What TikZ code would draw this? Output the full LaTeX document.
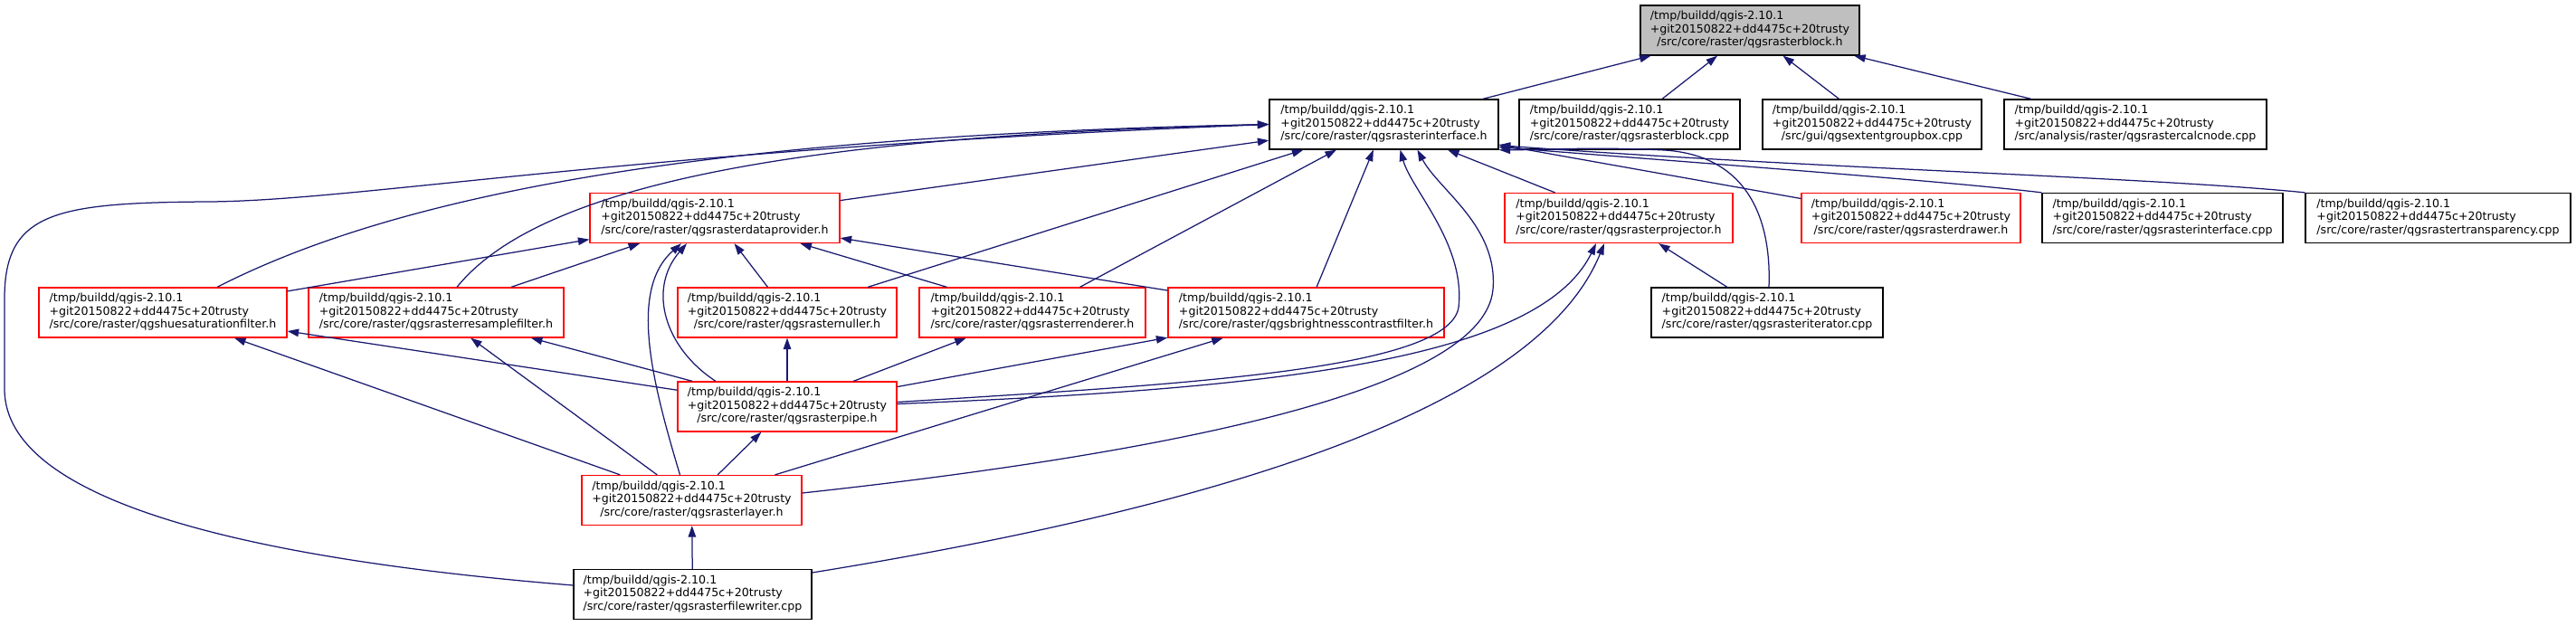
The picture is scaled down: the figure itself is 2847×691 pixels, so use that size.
\documentclass[tikz,border=0pt]{standalone}
\usepackage{fontspec}
\setmainfont{DejaVu Sans}
\usetikzlibrary{arrows.meta}
\definecolor{edgeNavy}{HTML}{191970}
\definecolor{rootGrey}{HTML}{BFBFBF}
\definecolor{boxRed}{HTML}{FF0000}
\newcommand{\qgisFile}[1]{\begin{tabular}{@{}l@{}}/tmp/buildd/qgis-2.10.1\\+git20150822+dd4475c+20trusty\\\multicolumn{1}{@{}c@{}}{#1}\end{tabular}}

\begin{document}
\begin{tikzpicture}[x=1pt,y=-1pt,
  fileBox/.style={draw,line width=1.25pt,minimum height=55pt,inner xsep=10.5pt,inner ysep=0pt,
    fill=white,font=\fontsize{12.6}{14.4}\selectfont},
  redFile/.style={fileBox,draw=boxRed},
  blackFile/.style={fileBox,draw=black},
  rootFile/.style={fileBox,draw=black,fill=rootGrey},
  incEdge/.style={draw=edgeNavy,line width=1.25pt,-{Triangle[length=12.5pt,width=8.5pt]}}]
\useasboundingbox (0,0) rectangle (2847,691);

\node[rootFile,minimum width=242pt] (blockh) at (1934,33.5) {\qgisFile{/src/core/raster/qgsrasterblock.h}};

\node[blackFile,minimum width=253pt] (ifaceh) at (1529.5,137.5) {\qgisFile{/src/core/raster/qgsrasterinterface.h}};
\node[blackFile,minimum width=244pt] (blockcpp) at (1801,137.5) {\qgisFile{/src/core/raster/qgsrasterblock.cpp}};
\node[blackFile,minimum width=242pt] (extentcpp) at (2069,137.5) {\qgisFile{/src/gui/qgsextentgroupbox.cpp}};
\node[blackFile,minimum width=290pt] (calccpp) at (2360,137.5) {\qgisFile{/src/analysis/raster/qgsrastercalcnode.cpp}};

\node[redFile,minimum width=276pt] (provh) at (790,241) {\qgisFile{/src/core/raster/qgsrasterdataprovider.h}};
\node[redFile,minimum width=252pt] (projh) at (1789,241) {\qgisFile{/src/core/raster/qgsrasterprojector.h}};
\node[redFile,minimum width=242pt] (drawerh) at (2112,241) {\qgisFile{/src/core/raster/qgsrasterdrawer.h}};
\node[blackFile,minimum width=266pt] (ifacecpp) at (2390,241) {\qgisFile{/src/core/raster/qgsrasterinterface.cpp}};
\node[blackFile,minimum width=293pt] (transpcpp) at (2694.5,241) {\qgisFile{/src/core/raster/qgsrastertransparency.cpp}};

\node[redFile,minimum width=274pt] (huesath) at (180,345.5) {\qgisFile{/src/core/raster/qgshuesaturationfilter.h}};
\node[redFile,minimum width=282pt] (resampleh) at (482,345.5) {\qgisFile{/src/core/raster/qgsrasterresamplefilter.h}};
\node[redFile,minimum width=242pt] (nullerh) at (870,345.5) {\qgisFile{/src/core/raster/qgsrasternuller.h}};
\node[redFile,minimum width=250pt] (rendererh) at (1141,345.5) {\qgisFile{/src/core/raster/qgsrasterrenderer.h}};
\node[redFile,minimum width=305pt] (brighth) at (1443.5,345.5) {\qgisFile{/src/core/raster/qgsbrightnesscontrastfilter.h}};
\node[blackFile,minimum width=256pt] (itercpp) at (1953,345.5) {\qgisFile{/src/core/raster/qgsrasteriterator.cpp}};

\node[redFile,minimum width=242pt] (pipeh) at (870,449.5) {\qgisFile{/src/core/raster/qgsrasterpipe.h}};
\node[redFile,minimum width=243pt] (layerh) at (764.5,553) {\qgisFile{/src/core/raster/qgsrasterlayer.h}};
\node[blackFile,minimum width=263pt] (writercpp) at (765.5,657) {\qgisFile{/src/core/raster/qgsrasterfilewriter.cpp}};

\draw[incEdge] (ifaceh) -- (blockh);
\draw[incEdge] (blockcpp) -- (blockh);
\draw[incEdge] (extentcpp) -- (blockh);
\draw[incEdge] (calccpp) -- (blockh);

\draw[incEdge] (provh) -- (ifaceh);
\draw[incEdge] (nullerh) -- (ifaceh);
\draw[incEdge] (rendererh) -- (ifaceh);
\draw[incEdge] (brighth) -- (ifaceh);
\draw[incEdge] (projh) -- (ifaceh);
\draw[incEdge] (drawerh) -- (ifaceh);
\draw[incEdge] (ifacecpp.north west) .. controls (2150,200) and (1850,178) .. ([yshift=3pt]ifaceh.south east);
\draw[incEdge] (transpcpp.north west) .. controls (2380,196) and (2000,186) .. ([yshift=5pt]ifaceh.south east);
\draw[incEdge] ([xshift=2pt]itercpp.north) .. controls (1958,240) and (1930,172) .. (1840,166)
  .. controls (1760,162) and (1700,166) .. (ifaceh.south east);
\draw[incEdge] ([xshift=60pt]huesath.north) .. controls (450,210) and (800,150) .. (ifaceh.west);
\draw[incEdge] ([xshift=23pt]resampleh.north) .. controls (600,200) and (900,150) .. (ifaceh.west);
\draw[incEdge] ([yshift=10pt]writercpp.west) .. controls (300,620) and (5,560) .. (5,430) -- (5,330)
  .. controls (5,235) and (60,224) .. (230,223) .. controls (400,222) and (700,165) .. (ifaceh.west);
\draw[incEdge] ([yshift=5pt]pipeh.east) .. controls (1300,425) and (1600,410) .. (1612,340)
  .. controls (1620,270) and (1560,210) .. ([xshift=18pt]ifaceh.south);
\draw[incEdge] ([yshift=8pt]layerh.east) .. controls (1300,500) and (1640,430) .. (1650,320)
  .. controls (1656,250) and (1590,210) .. ([xshift=37pt]ifaceh.south);

\draw[incEdge] (huesath) -- (provh);
\draw[incEdge] (resampleh) -- (provh);
\draw[incEdge] (nullerh) -- (provh);
\draw[incEdge] (rendererh) -- (provh);
\draw[incEdge] (brighth) -- (provh);
\draw[incEdge] ([xshift=-79pt]pipeh.north) .. controls (735,385) and (715,320) .. ([xshift=-31pt]provh.south);
\draw[incEdge] ([xshift=-13pt]layerh.north) .. controls (720,420) and (695,320) .. ([xshift=-37pt]provh.south);

\draw[incEdge] ([yshift=3pt]pipeh.east) .. controls (1400,430) and (1700,400) .. ([xshift=-25pt]projh.south);
\draw[incEdge] ([yshift=24pt]writercpp.east) .. controls (1350,560) and (1700,450) .. ([xshift=-16pt]projh.south);
\draw[incEdge] (itercpp) -- (projh);

\draw[incEdge] (pipeh) -- (huesath);
\draw[incEdge] (layerh) -- (huesath);
\draw[incEdge] (pipeh) -- (resampleh);
\draw[incEdge] (layerh) -- (resampleh);
\draw[incEdge] (pipeh) -- (nullerh);
\draw[incEdge] (pipeh) -- (rendererh);
\draw[incEdge] (pipeh) -- (brighth);
\draw[incEdge] (layerh) -- (brighth);
\draw[incEdge] (layerh) -- (pipeh);
\draw[incEdge] (writercpp) -- (layerh);
\end{tikzpicture}
\end{document}
